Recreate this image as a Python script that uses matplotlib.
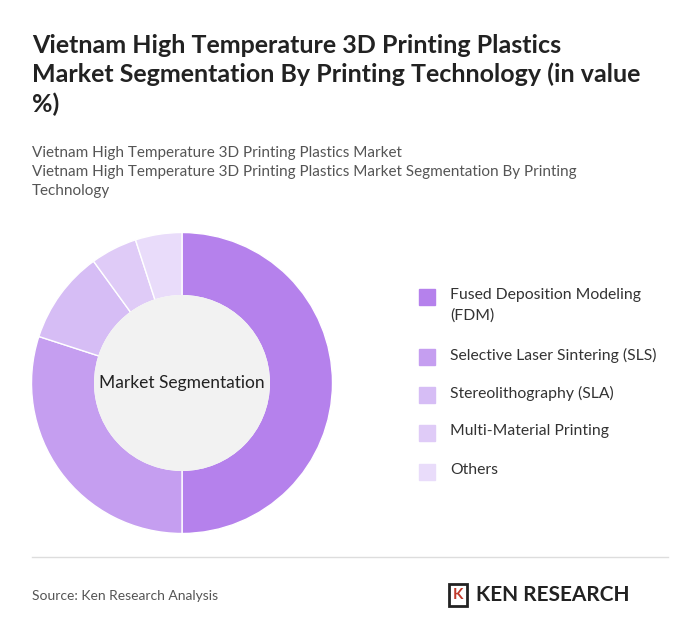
import matplotlib.pyplot as plt
from matplotlib.patches import Rectangle, Circle

plt.rcParams['font.family'] = ['Lato', 'DejaVu Sans']

labels = ['Fused Deposition Modeling\n(FDM)', 'Selective Laser Sintering (SLS)',
          'Stereolithography (SLA)', 'Multi-Material Printing', 'Others']
values = [50, 30, 10, 5, 5]
colors = ['#b581ec', '#c59ef0', '#d6bdf5', '#dfcbf7', '#e9dcfa']

W, H = 700, 642
fig = plt.figure(figsize=(7, 6.42), dpi=100)
fig.patch.set_facecolor('white')

fig.text(32 / W, 1 - 34 / H, 'Vietnam High Temperature 3D Printing Plastics\nMarket Segmentation By Printing Technology (in value\n%)',
         fontsize=18, fontweight='bold', color='#222222', va='top', linespacing=1.3)
fig.text(32 / W, 1 - 146 / H, 'Vietnam High Temperature 3D Printing Plastics Market\n'
         'Vietnam High Temperature 3D Printing Plastics Market Segmentation By Printing\nTechnology',
         fontsize=11, color='#555555', va='top', linespacing=1.45)

ax = fig.add_axes([(182 - 152) / W, 1 - (383 + 152) / H, 304 / W, 304 / H])
ax.pie(values, colors=colors, startangle=90, counterclock=False,
       wedgeprops=dict(width=0.42, edgecolor='white', linewidth=1))
ax.add_patch(Circle((0, 0), 0.58, color='#f2f2f2', zorder=3))
ax.text(0, 0, 'Market Segmentation', ha='center', va='center', fontsize=12.5, color='#222222', zorder=4)
ax.set_xlim(-1.01, 1.01)
ax.set_ylim(-1.01, 1.01)
ax.set_aspect('equal')
ax.axis('off')

ys = [297, 357, 395, 433, 472]
for lab, c, y in zip(labels, colors, ys):
    fig.patches.append(Rectangle((419 / W, 1 - (y + 8) / H), 16 / W, 16 / H,
                                 transform=fig.transFigure, color=c))
    fig.text(450 / W, 1 - (y - 9) / H, lab, fontsize=11.3, color='#333333', va='top', linespacing=1.6)

fig.add_artist(plt.Line2D([32 / W, 668 / W], [1 - 557 / H] * 2, color='#dddddd', lw=1))
fig.text(32 / W, 1 - 596 / H, 'Source: Ken Research Analysis', fontsize=10, color='#555555', va='center')
fig.patches.append(Rectangle((449 / W, 1 - 606 / H), 18 / W, 22 / H, transform=fig.transFigure,
                             fill=False, edgecolor='#222222', lw=2))
fig.text(458 / W, 1 - 595 / H, 'K', fontsize=11, fontweight='bold', color='#c0392b', ha='center', va='center')
fig.text(476 / W, 1 - 595 / H, 'KEN RESEARCH', fontsize=15, fontweight='bold', color='#222222', va='center')

fig.savefig('out.png', dpi=100)
